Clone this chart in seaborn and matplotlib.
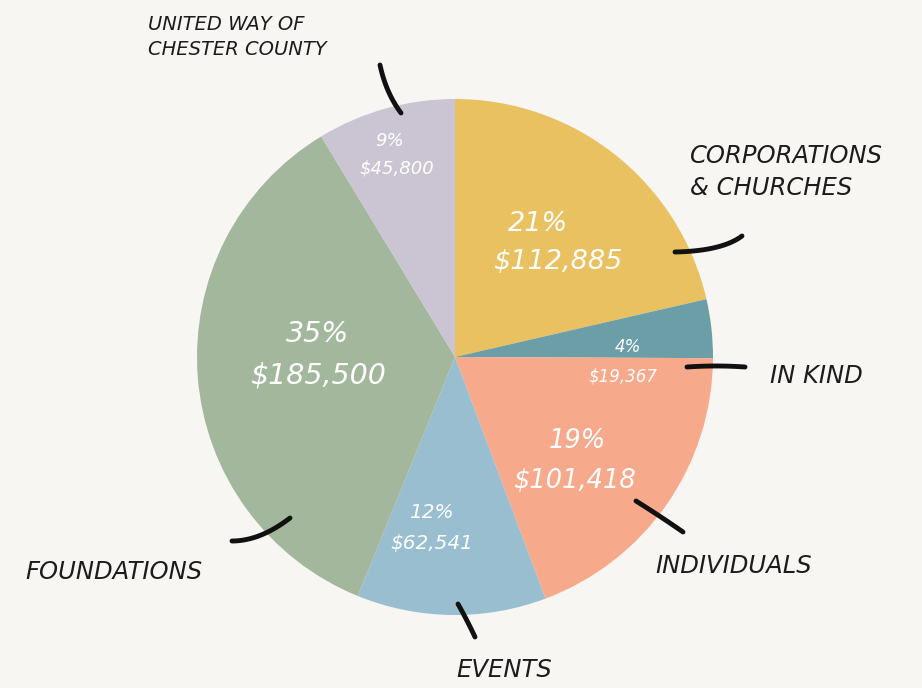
import matplotlib
matplotlib.use("Agg")
import matplotlib.pyplot as plt
import seaborn as sns
import numpy as np

categories = ["Corporations\n& Churches", "In Kind", "Individuals", "Events",
              "Foundations", "United Way of\nChester County"]
amounts = [112885, 19367, 101418, 62541, 185500, 45800]
colors = ["#e9c160", "#6b9ea6", "#f7a98b", "#98bed0", "#a3b79c", "#cbc4d2"]
outer_text = ["CORPORATIONS\n& CHURCHES", "IN KIND", "INDIVIDUALS", "EVENTS",
              "FOUNDATIONS", "UNITED WAY OF\nCHESTER COUNTY"]

sns.set_theme(style="white")
plt.rcParams["font.family"] = ["DejaVu Sans"]

BG = "#f7f6f3"
W, H = 922, 688
fig = plt.figure(figsize=(W / 100, H / 100), dpi=100, facecolor=BG)
ax = fig.add_axes([0, 0, 1, 1])
ax.set_facecolor(BG)

def py(y):
    return H - y

cx, cy, r = 455, 357, 258
ax.pie(amounts, colors=colors, startangle=90, counterclock=False,
       center=(cx, py(cy)), radius=r, frame=True,
       wedgeprops=dict(linewidth=0))
ax.set_xlim(0, W)
ax.set_ylim(0, H)
ax.set_aspect("equal")
ax.axis("off")

total = sum(amounts)
pcts = [f"{round(a / total * 100)}%" for a in amounts]
money = [f"${a:,}" for a in amounts]

# inner label layout: (x_pct, y_pct, x_amt, y_amt, size)
inner = [
    (538, 224, 558, 262, 19.5),
    (628, 347, 623, 376, 12),
    (577, 441, 575, 481, 18.5),
    (431, 512, 432, 543, 14.5),
    (318, 334, 318, 375, 20.5),
    (390, 141, 397, 168, 13),
]
for (xp, yp, xa, ya, s), p, m in zip(inner, pcts, money):
    ax.text(xp, py(yp), p, color="white", fontsize=s, style="italic",
            ha="center", va="center")
    ax.text(xa, py(ya), m, color="white", fontsize=s, style="italic",
            ha="center", va="center")

# outer labels: (x, y)
outer = [(690, 172), (770, 376), (655, 566), (456, 670), (25, 572), (148, 37)]
sizes = [17.5, 17.5, 17.5, 17.5, 17.5, 14]
for (x, y), t, s in zip(outer, outer_text, sizes):
    ax.text(x, py(y), t, color="#1c1c1c", fontsize=s, style="italic",
            ha="left", va="center", linespacing=1.45)

# leader strokes (quadratic curves: start, control, end)
leaders = [
    [(675, 252), (722, 251), (742, 236)],
    [(687, 367), (716, 365), (745, 367)],
    [(636, 501), (660, 516), (683, 532)],
    [(458, 604), (467, 620), (475, 637)],
    [(232, 541), (260, 541), (290, 518)],
    [(380, 65), (386, 93), (401, 113)],
]
t = np.linspace(0, 1, 30)
for (p0, p1, p2) in leaders:
    xs = (1 - t) ** 2 * p0[0] + 2 * (1 - t) * t * p1[0] + t ** 2 * p2[0]
    ys = (1 - t) ** 2 * p0[1] + 2 * (1 - t) * t * p1[1] + t ** 2 * p2[1]
    ax.plot(xs, H - ys, color="#111111", lw=3.5, solid_capstyle="round")

fig.savefig("out.png", dpi=100, facecolor=BG)
